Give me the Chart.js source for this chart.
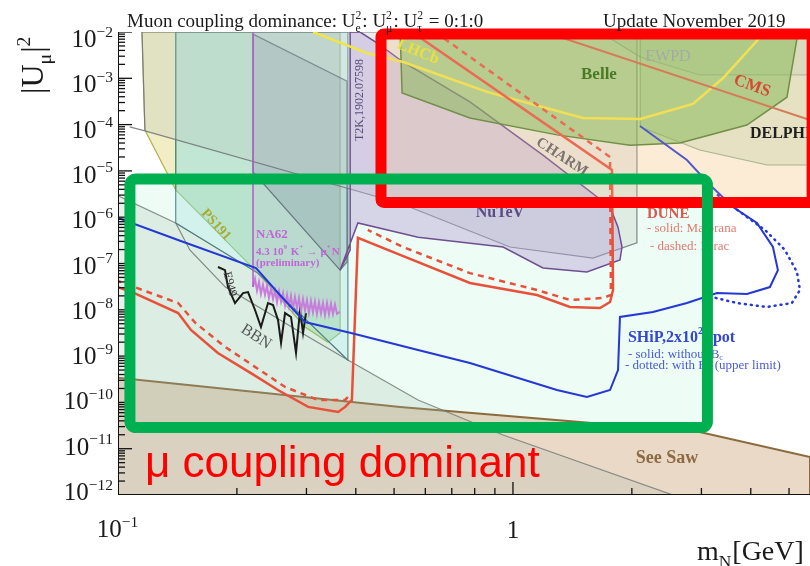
<!DOCTYPE html>
<html>
<head>
<meta charset="utf-8">
<style>
  html, body { margin: 0; background: #fff; }
  #wrap { width: 810px; height: 566px; position: relative; }
</style>
</head>
<body>
<div id="wrap"><canvas id="myChart"></canvas></div>
<script src="https://cdn.jsdelivr.net/npm/chart.js@4"></script>
<script>
    // axes: heavy neutral lepton mass [GeV] vs |U_mu|^2
    const massRange = [0.1, 5.65];
    const couplingRange = [1e-12, 1e-2];
    const yDecades = [-2, -3, -4, -5, -6, -7, -8, -9, -10, -11, -12];
    const xLabelled = [0.1, 1];
    const xMinor = [0.2, 0.3, 0.4, 0.5, 0.6, 0.7, 0.8, 0.9, 2, 3, 4, 5];

    // excluded regions, [mass, |U|^2] vertices
    const seeSaw = [[0.1, 3.4e-10], [0.518, 8.0e-11], [2.97, 2.3e-11], [5.65, 6.6e-12], [5.65, 1e-12], [0.1, 1e-12]];
    const bbn = [[0.1, 2.9e-6], [0.140, 7.5e-7], [0.226, 6.2e-8], [0.382, 8.2e-10], [0.575, 1.13e-10], [0.944, 1.98e-11], [2.54, 1e-12], [0.1, 1e-12]];
    const bbnEdge = [[0.140, 7.5e-7], [0.152, 1.96e-7], [0.187, 3.1e-8], [0.289, 3.3e-9], [0.382, 8.2e-10]];
    const ps191Low = [[0.115, 1e-2], [0.140, 1e-2], [0.140, 3.9e-6], [0.117, 7.6e-5]];
    const ps191 = [[0.140, 1e-2], [0.365, 1e-2], [0.365, 3.15e-9], [0.340, 2.0e-9], [0.2975, 4.25e-9], [0.226, 6.2e-8], [0.140, 3.9e-6]];
    const tealBand = [[0.140, 1e-2], [0.382, 1e-2], [0.382, 8.2e-10], [0.226, 6.2e-8], [0.140, 7.5e-7]];
    const na62Band = [[0.2197, 1e-2], [0.365, 1e-2], [0.365, 9.0e-9], [0.2197, 3.4e-8]];
    const darkWedge = [[0.2197, 9.0e-3], [0.380, 8.7e-4], [0.380, 1.08e-7], [0.365, 7.2e-8], [0.2197, 9.5e-6]];
    const charm = [[0.117, 7.3e-5], [0.107, 8.9e-5], [0.117, 7.3e-5], [0.518, 2.0e-6], [0.983, 2.27e-7], [1.594, 1.31e-7], [2.06, 2.8e-7], [2.06, 1e-2], [0.115, 1e-2]];
    const nutev = [[0.387, 1e-2], [0.410, 1e-2], [0.4525, 5.8e-3], [0.527, 2.25e-3], [0.778, 3.1e-4], [1.191, 2.2e-5], [1.761, 1.66e-6], [1.845, 6.1e-7], [1.888, 2.27e-7], [1.866, 1.19e-7], [1.539, 6.55e-8], [1.191, 8.0e-8], [0.944, 2.27e-7], [0.575, 3.7e-7], [0.405, 7.5e-7], [0.365, 7.2e-8], [0.387, 1.96e-7]];
    const ewpd = [[1.661, 1e-2], [5.65, 1e-2], [5.65, 1.18e-3], [2.97, 1.18e-3], [2.10, 2.9e-3]];
    const delphi = [[2.10, 1e-2], [5.65, 1e-2], [5.65, 1.34e-5], [4.40, 1.34e-5], [2.97, 2.83e-5], [2.10, 8.9e-5]];
    const belle = [[0.518, 1e-2], [0.524, 4.8e-4], [0.778, 1.39e-4], [1.292, 6.0e-5], [1.978, 3.6e-5], [2.647, 4.0e-5], [3.91, 9.8e-5], [4.94, 3.9e-4], [5.24, 7.4e-3], [5.24, 1e-2]];

    // limit and sensitivity curves
    const lhcb = [[0.312, 1e-2], [0.427, 3.5e-3], [0.527, 2.25e-3], [0.860, 5.1e-4], [1.504, 1.39e-4], [2.10, 1.32e-4], [2.855, 2.8e-4], [3.40, 1.0e-3], [4.345, 1e-2]];
    const cms = [[1.205, 1e-2], [5.65, 1.26e-4]];
    const e949 = [[0.1791, 8.4e-8], [0.1866, 7.2e-8], [0.1899, 3.1e-8], [0.1978, 1.4e-8], [0.2073, 2.3e-8], [0.2134, 2.42e-8], [0.2223, 9.9e-9], [0.2301, 4.25e-9], [0.2398, 1.4e-8], [0.2469, 1.27e-8], [0.2542, 6.0e-9], [0.2587, 1.92e-9], [0.2648, 8.5e-9], [0.2742, 7.0e-9], [0.2823, 1.17e-9], [0.289, 9.9e-9], [0.2941, 3.15e-9], [0.2992, 8.5e-9]];
    const na62 = [[0.2197, 3.1e-8], [0.2223, 4.6e-8], [0.2249, 2.6e-8], [0.2275, 4.0e-8], [0.2301, 2.2e-8], [0.2328, 3.5e-8], [0.2356, 2.1e-8], [0.2383, 3.3e-8], [0.2411, 1.8e-8], [0.244, 2.9e-8], [0.2469, 1.7e-8], [0.2498, 2.6e-8], [0.2527, 1.45e-8], [0.2557, 2.5e-8], [0.2587, 1.5e-8], [0.2617, 2.3e-8], [0.2648, 1.25e-8], [0.2679, 2.1e-8], [0.2710, 1.2e-8], [0.2741, 2.0e-8], [0.2773, 1.05e-8], [0.2806, 1.9e-8], [0.2839, 1.1e-8], [0.2872, 1.8e-8], [0.2906, 9.4e-9], [0.294, 1.7e-8], [0.2975, 9.8e-9], [0.3009, 1.6e-8], [0.3044, 8.5e-9], [0.308, 1.55e-8], [0.3116, 8.8e-9], [0.3152, 1.5e-8], [0.3189, 8.1e-9], [0.3227, 1.45e-8], [0.3265, 8.4e-9], [0.3303, 1.4e-8], [0.3342, 7.7e-9], [0.3382, 1.4e-8], [0.3421, 8.0e-9], [0.3461, 1.35e-8], [0.3502, 8.1e-9], [0.3543, 1.3e-8], [0.3584, 8.2e-9], [0.3648, 9.0e-9]];
    const na62Edge = [[0.2197, 1e-2], [0.2197, 3.1e-8]];
    const duneMajorana = [[0.555, 1e-2], [1.781, 1.05e-5], [1.792, 2.68e-8], [1.761, 1.47e-8], [1.661, 1.09e-8], [1.394, 1.15e-8], [1.150, 2.09e-8], [0.778, 3.8e-8], [0.518, 1.53e-7], [0.405, 3.6e-7], [0.391, 1.13e-10], [0.376, 8.0e-11], [0.361, 6.2e-11], [0.303, 8.0e-11], [0.254, 1.85e-10], [0.217, 4.3e-10], [0.179, 1.17e-9], [0.153, 3.66e-9], [0.142, 8.5e-9], [0.110, 2.3e-8], [0.1, 3.1e-8]];
    const duneDiracHigh = [[0.635, 1e-2], [1.761, 2.0e-5], [1.770, 2.09e-8], [1.690, 1.8e-8], [1.394, 1.63e-8], [1.150, 2.68e-8], [0.778, 6.2e-8], [0.527, 2.27e-7], [0.429, 5.3e-7]];
    const duneDiracLow = [[0.382, 1.31e-10], [0.376, 1.13e-10], [0.321, 1.13e-10], [0.265, 2.15e-10], [0.187, 1.57e-9], [0.157, 5.2e-9], [0.142, 1.4e-8], [0.110, 3.1e-8], [0.1, 4.2e-8]];
    const shipSolid = [[0.1, 9.6e-7], [0.1436, 3.1e-7], [0.2236, 8.0e-8], [0.257, 2.09e-8], [0.2975, 5.45e-9], [0.389, 3.15e-9], [0.575, 1.35e-9], [0.778, 7.1e-10], [1.292, 1.85e-10], [1.539, 1.31e-10], [1.761, 1.85e-10], [1.845, 5.0e-10], [1.866, 7.0e-9], [2.262, 9.0e-9], [2.757, 1.4e-8], [3.284, 2.3e-8], [3.912, 2.2e-8], [4.473, 3.1e-8], [4.686, 7.2e-8], [4.552, 2.27e-7], [4.146, 7.5e-7], [3.606, 1.66e-6], [3.151, 5.0e-6], [2.757, 1.72e-5], [2.097, 9.3e-5]];
    const shipDotted = [[3.303, 3.0e-6], [3.755, 1.3e-6], [4.345, 5.3e-7], [4.881, 1.96e-7], [5.236, 6.55e-8], [5.329, 2.68e-8], [5.084, 1.4e-8], [4.396, 1.15e-8], [3.69, 1.4e-8], [3.19, 1.89e-8]];

    // highlight frames: [mass min, mass max], [|U|^2 top, |U|^2 bottom]
    const heavyBoxMass = [0.4633, 5.72];
    const heavyBoxU = [9.0e-3, 2.08e-6];
    const muonBoxMass = [0.1072, 3.107];
    const muonBoxU = [6.7e-6, 2.87e-11];

    // text placed in data coordinates
    const notes = [
        {t: ['LHCb'], m: 0.575, u: 3.7e-3, c: '#ece040', s: 16, w: 'bold', r: 22},
        {t: ['Belle'], m: 1.651, u: 1.18e-3, c: '#4a7a26', s: 17, w: 'bold'},
        {t: ['EWPD'], m: 2.469, u: 2.9e-3, c: '#a5aaa5', s: 16},
        {t: ['CMS'], m: 4.03, u: 6.8e-4, c: '#d54a35', s: 17, w: 'bold', r: 20},
        {t: ['DELPHI'], m: 3.98, u: 6.3e-5, c: '#1e1e1e', s: 16, w: 'bold', a: 'left'},
        {t: ['CHARM'], m: 1.33, u: 2.0e-5, c: '#7b7272', s: 15, w: 'bold', r: 33},
        {t: ['NuTeV'], m: 0.927, u: 1.23e-6, c: '#5d4b85', s: 16, w: 'bold'},
        {t: ['DUNE'], m: 2.183, u: 1.17e-6, c: '#d9574f', s: 15, w: 'bold', a: 'left'},
        {t: ['- solid: Majorana'], m: 2.183, u: 5.8e-7, c: '#e27a70', s: 13, a: 'left'},
        {t: ['- dashed: Dirac'], m: 2.222, u: 2.27e-7, c: '#e27a70', s: 13, a: 'left'},
        {t: ['SHiP,2x10', {sup: '20'}, ' pot'], m: 1.955, u: 2.46e-9, c: '#3447d4', s: 16, w: 'bold', a: 'left'},
        {t: ['- solid: without B', {sub: 'c'}], m: 1.955, u: 1.06e-9, c: '#4a5ad8', s: 13, a: 'left'},
        {t: ['- dotted: with B', {sub: 'c'}, ' (upper limit)'], m: 1.921, u: 6.1e-10, c: '#4a5ad8', s: 13, a: 'left'},
        {t: ['See Saw'], m: 2.455, u: 6.3e-12, c: '#8c6b43', s: 18, w: 'bold'},
        {t: ['PS191'], m: 0.177, u: 6.8e-7, c: '#a9ab35', s: 14, w: 'bold', r: 48},
        {t: ['NA62'], m: 0.2236, u: 4.3e-7, c: '#c266d6', s: 13, w: 'bold', a: 'left'},
        {t: ['4.3 10', {sup: '9'}, ' K', {sup: '+'}, ' \u2192 \u03bc', {sup: '+'}, 'N'], m: 0.2236, u: 1.77e-7, c: '#c266d6', s: 11, w: 'bold', a: 'left'},
        {t: ['(preliminary)'], m: 0.2236, u: 1.03e-7, c: '#c266d6', s: 11, w: 'bold', a: 'left'},
        {t: ['E949'], m: 0.192, u: 3.6e-8, c: '#333', s: 12, r: 75},
        {t: ['BBN'], m: 0.2236, u: 2.6e-9, c: '#555', s: 16, r: 33},
        {t: ['T2K,1902.07598'], m: 0.41, u: 3.4e-4, c: '#57507a', s: 12, r: -90}
    ];

    const pts = arr => arr.map(([x, y]) => ({x: x, y: y}));

    function region(label, data, fill, border, width) {
        const d = pts(data);
        d.push(d[0]);
        return {label: label, data: d, fill: 'shape', backgroundColor: fill, borderColor: border,
            borderWidth: width || 1.2, pointRadius: 0, tension: 0};
    }

    function curve(label, data, color, width, dash, cap) {
        return {label: label, data: pts(data), fill: false, borderColor: color, borderWidth: width,
            borderDash: dash || [], borderCapStyle: cap || 'butt', pointRadius: 0, tension: 0};
    }

    // bottom layer first
    const layers = [
        region('See Saw', seeSaw, 'rgba(205,165,120,0.42)', '#8b6b3d', 2),
        region('BBN', bbn, 'rgba(160,180,170,0.22)', 'rgba(110,120,115,0.8)'),
        region('PS191 low', ps191Low, 'rgba(228,222,140,0.5)', 'rgba(170,170,60,0.9)'),
        region('PS191', ps191, 'rgba(150,210,140,0.42)', 'rgba(140,185,90,0.9)'),
        region('teal', tealBand, 'rgba(150,215,220,0.3)', 'rgba(60,120,120,0.8)'),
        region('NA62 band', na62Band, 'rgba(200,160,230,0.15)', 'rgba(0,0,0,0)', 0),
        region('wedge', darkWedge, 'rgba(100,115,135,0.2)', 'rgba(80,90,100,0.75)'),
        region('CHARM', charm, 'rgba(185,200,190,0.3)', 'rgba(110,115,120,0.85)'),
        region('NuTeV', nutev, 'rgba(180,160,215,0.42)', '#6e4f90', 1.5),
        region('EWPD', ewpd, 'rgba(180,195,185,0.25)', 'rgba(140,150,145,0.8)'),
        region('DELPHI', delphi, 'rgba(175,210,165,0.38)', 'rgba(120,160,120,0.8)'),
        region('Belle', belle, 'rgba(100,180,60,0.5)', '#4d7f2e', 1.5),
        curve('BBN edge', bbnEdge, 'rgba(110,120,115,0.85)', 1.2),
        curve('E949', e949, '#1a1a1a', 2),
        curve('NA62', na62, '#c77ddb', 2),
        curve('NA62 edge', na62Edge, '#b05cc8', 1.5),
        curve('LHCb', lhcb, '#f3e640', 2.5),
        curve('CMS', cms, '#cc6644', 2),
        curve('DUNE Majorana', duneMajorana, '#e8503a', 2.5),
        curve('DUNE Dirac', duneDiracHigh, '#e8503a', 2.5, [6, 5]),
        curve('DUNE Dirac low', duneDiracLow, '#e8503a', 2.5, [6, 5]),
        curve('SHiP', shipSolid, '#2438d6', 2),
        curve('SHiP Bc', shipDotted, '#2438d6', 2.5, [1, 5], 'round')
    ];
    layers.forEach((l, i) => { l.order = layers.length - i; });

    const serif = (size, weight) => (weight || '') + ' ' + size + 'px "Liberation Serif", "DejaVu Serif", serif';

    function partWidth(ctx, p, size, weight) {
        if (typeof p === 'string') {
            ctx.font = serif(size, weight);
            return ctx.measureText(p).width;
        }
        ctx.font = serif(size * 0.62, weight);
        return Math.max(p.sup ? ctx.measureText(p.sup).width : 0, p.sub ? ctx.measureText(p.sub).width : 0) + 1;
    }

    // text with superscripts / subscripts
    function drawRich(ctx, parts, x, y, size, o) {
        o = o || {};
        const widths = parts.map(p => partWidth(ctx, p, size, o.weight));
        const total = widths.reduce((s, w) => s + w, 0);
        let cx = o.align === 'right' ? x - total : (o.align === 'left' ? x : x - total / 2);
        ctx.fillStyle = o.color || '#111';
        ctx.textAlign = 'left';
        ctx.textBaseline = o.baseline || 'alphabetic';
        parts.forEach((p, i) => {
            if (typeof p === 'string') {
                ctx.font = serif(size, o.weight);
                ctx.fillText(p, cx, y);
            } else {
                ctx.font = serif(size * 0.62, o.weight);
                if (p.sup) ctx.fillText(p.sup, cx, y - size * 0.42);
                if (p.sub) ctx.fillText(p.sub, cx, y + size * 0.24);
            }
            cx += widths[i];
        });
    }

    function seg(ctx, x1, y1, x2, y2) {
        ctx.beginPath();
        ctx.moveTo(x1, y1);
        ctx.lineTo(x2, y2);
        ctx.stroke();
    }

    function boxPath(chart, ms, us, r) {
        const {ctx, scales: {x, y}} = chart;
        const x1 = x.getPixelForValue(ms[0]), x2 = x.getPixelForValue(ms[1]);
        const y1 = y.getPixelForValue(us[0]), y2 = y.getPixelForValue(us[1]);
        ctx.beginPath();
        ctx.roundRect(x1, y1, x2 - x1, y2 - y1, r);
    }

    const decorations = {
        id: 'decorations',
        beforeDatasetsDraw(chart) {
            // tinted interiors of the highlight frames sit under the curves
            const {ctx, chartArea: a} = chart;
            ctx.save();
            ctx.beginPath();
            ctx.rect(a.left, a.top, a.right - a.left, a.bottom - a.top);
            ctx.clip();
            boxPath(chart, heavyBoxMass, heavyBoxU, 3);
            ctx.fillStyle = 'rgba(252,232,190,0.45)';
            ctx.fill();
            boxPath(chart, muonBoxMass, muonBoxU, 6);
            ctx.fillStyle = 'rgba(225,250,236,0.6)';
            ctx.fill();
            ctx.restore();
        },
        afterDatasetsDraw(chart) {
            const {ctx, chartArea: a, scales: {x, y}} = chart;
            ctx.save();
            ctx.beginPath();
            ctx.rect(a.left, a.top, a.right - a.left, a.bottom - a.top);
            ctx.clip();

            // warm veil over the upper frame
            boxPath(chart, heavyBoxMass, heavyBoxU, 3);
            ctx.fillStyle = 'rgba(245,200,165,0.22)';
            ctx.fill();

            for (const n of notes) {
                ctx.save();
                ctx.translate(x.getPixelForValue(n.m), y.getPixelForValue(n.u));
                ctx.rotate((n.r || 0) * Math.PI / 180);
                drawRich(ctx, n.t, 0, 0, n.s, {weight: n.w, color: n.c, align: n.a, baseline: 'middle'});
                ctx.restore();
            }

            // inward tick marks
            ctx.strokeStyle = '#111';
            ctx.lineWidth = 1.3;
            for (const e of yDecades) {
                const py = y.getPixelForValue(Math.pow(10, e));
                seg(ctx, a.left, py, a.left + 14, py);
                if (e > -12) {
                    for (let k = 2; k <= 9; k++) {
                        const p = y.getPixelForValue(k * Math.pow(10, e - 1));
                        seg(ctx, a.left, p, a.left + 7, p);
                    }
                }
            }
            for (const v of xMinor) {
                const px = x.getPixelForValue(v);
                seg(ctx, px, a.bottom, px, a.bottom - 7);
            }
            for (const v of xLabelled) {
                const px = x.getPixelForValue(v);
                seg(ctx, px, a.bottom, px, a.bottom - 13);
            }
            ctx.lineWidth = 2;
            seg(ctx, a.left, a.top, a.left, a.bottom);
            seg(ctx, a.left, a.bottom, a.right, a.bottom);
            ctx.restore();

            // highlight frames on top
            ctx.save();
            ctx.lineWidth = 11;
            boxPath(chart, heavyBoxMass, heavyBoxU, 3);
            ctx.strokeStyle = '#ff0000';
            ctx.stroke();
            boxPath(chart, muonBoxMass, muonBoxU, 6);
            ctx.strokeStyle = '#00b050';
            ctx.stroke();

            ctx.font = '44px "Liberation Sans", Arial, sans-serif';
            ctx.fillStyle = '#ff0000';
            ctx.textAlign = 'left';
            ctx.textBaseline = 'alphabetic';
            ctx.fillText('\u03bc coupling dominant', x.getPixelForValue(0.117), y.getPixelForValue(2.45e-12));
            ctx.restore();
        },
        afterDraw(chart) {
            const {ctx, chartArea: a, scales: {x, y}} = chart;
            ctx.save();
            yDecades.forEach((e, i) => {
                const py = y.getPixelForValue(Math.pow(10, e));
                drawRich(ctx, ['10', {sup: '\u2212' + (-e)}], a.left - 4, py + 15 - i, 25, {align: 'right', color: '#1a1a1a'});
            });
            drawRich(ctx, ['10', {sup: '\u22121'}], x.getPixelForValue(0.1), a.bottom + 42, 25, {color: '#1a1a1a'});
            drawRich(ctx, ['1'], x.getPixelForValue(1), a.bottom + 43, 25, {color: '#1a1a1a'});

            drawRich(ctx, ['Muon coupling dominance: U', {sup: '2', sub: 'e'}, ': U', {sup: '2', sub: '\u03bc'}, ': U', {sup: '2', sub: '\u03c4'}, ' = 0:1:0'],
                127, 27, 19, {align: 'left', color: '#1a1a1a'});
            drawRich(ctx, ['Update November 2019'], 603, 27, 19, {align: 'left', color: '#1a1a1a'});
            drawRich(ctx, ['m', {sub: 'N'}, '[GeV]'], 697, 560, 28, {align: 'left', color: '#1a1a1a'});

            ctx.translate(43, 94);
            ctx.rotate(-Math.PI / 2);
            drawRich(ctx, ['|U', {sub: '\u03bc'}, '|', {sup: '2'}], 0, 0, 32, {align: 'left', color: '#1a1a1a'});
            ctx.restore();
        }
    };

    new Chart(document.getElementById('myChart'), {
        type: 'line',
        data: {datasets: layers},
        options: {
            responsive: true,
            maintainAspectRatio: false,
            animation: false,
            events: [],
            layout: {padding: {left: 118, top: 32, right: 0, bottom: 71}},
            plugins: {legend: {display: false}, tooltip: {enabled: false}},
            scales: {
                x: {
                    type: 'logarithmic', min: massRange[0], max: massRange[1], bounds: 'data',
                    ticks: {display: false}, grid: {display: false, drawTicks: false}, border: {display: false}
                },
                y: {
                    type: 'logarithmic', min: couplingRange[0], max: couplingRange[1], bounds: 'data',
                    ticks: {display: false}, grid: {display: false, drawTicks: false}, border: {display: false}
                }
            }
        },
        plugins: [decorations]
    });
</script>
</body>
</html>
